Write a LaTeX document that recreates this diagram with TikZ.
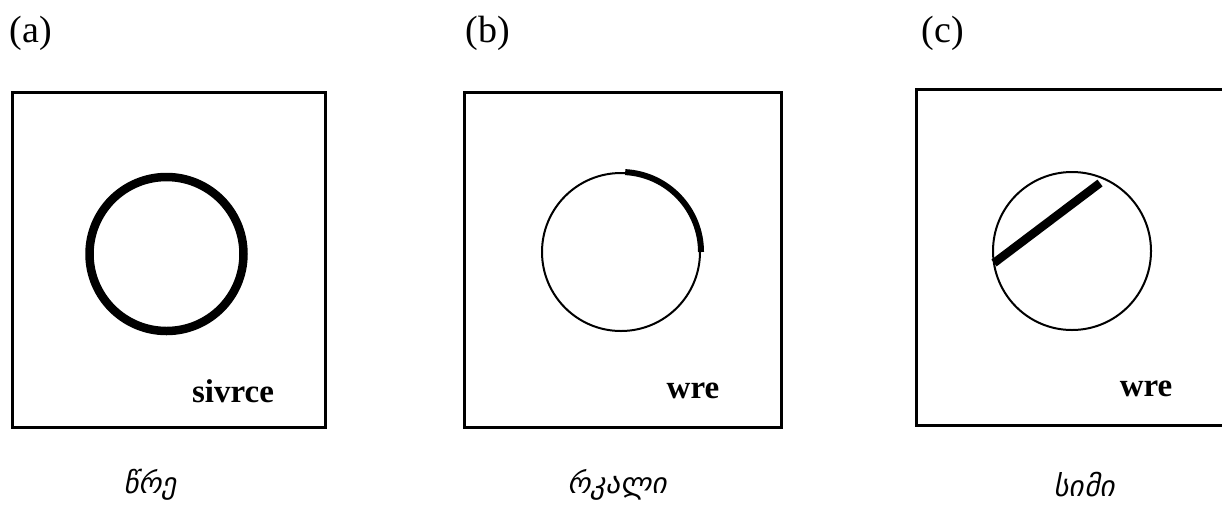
\documentclass[tikz,border=0pt]{standalone}
\usepackage{fontspec}
\setmainfont{Liberation Serif}
\newfontfamily\geo[FakeSlant=0.2]{DejaVu Sans}
\begin{document}
\begin{tikzpicture}[x=1pt,y=-1pt,
  frame/.style={line width=3pt, line cap=rect},
  panel/.style={font=\fontsize{38}{40}\selectfont, inner sep=0pt},
  inlabel/.style={font=\bfseries\fontsize{33}{36}\selectfont, inner sep=0pt},
  geolabel/.style={font=\geo\fontsize{29}{32}\selectfont, inner sep=0pt},
  thin/.style={line width=2pt},
  thick/.style={line width=8.5pt}]
\useasboundingbox (0,0) rectangle (1222,504);
% (a)
\node[panel] (la) at (31,33) {(a)};
\draw[frame] (12,92) rectangle (325,427);
\coordinate (ca) at (166.5,254);
\draw[thick] (ca) circle[radius=77];
\node[inlabel] (ta) at (233,391) {sivrce};
\node[geolabel] (ga) at (150,485) {წრე};
% (b)
\node[panel] (lb) at (488,33) {(b)};
\draw[frame] (464,92) rectangle (781,427);
\coordinate (cb) at (621,252);
\draw[thin] (cb) circle[radius=79];
\draw[line width=6pt] (cb) ++(-87:80) arc[start angle=-87, end angle=0, radius=80];
\node[inlabel] (tb) at (693,391) {wre};
\node[geolabel] (gb) at (617,485) {რკალი};
% (c)
\node[panel] (lc) at (943,33) {(c)};
\draw[frame] (1230,89) -- (916,89) -- (916,425) -- (1230,425);
\coordinate (cc) at (1072,251);
\draw[thin] (cc) circle[radius=79];
\draw[thick] (cc) ++(-78,12) -- ++(106,-80);
\node[inlabel] (tc) at (1146,389) {wre};
\node[geolabel] (gc) at (1084,485) {სიმი};
\end{tikzpicture}
\end{document}
